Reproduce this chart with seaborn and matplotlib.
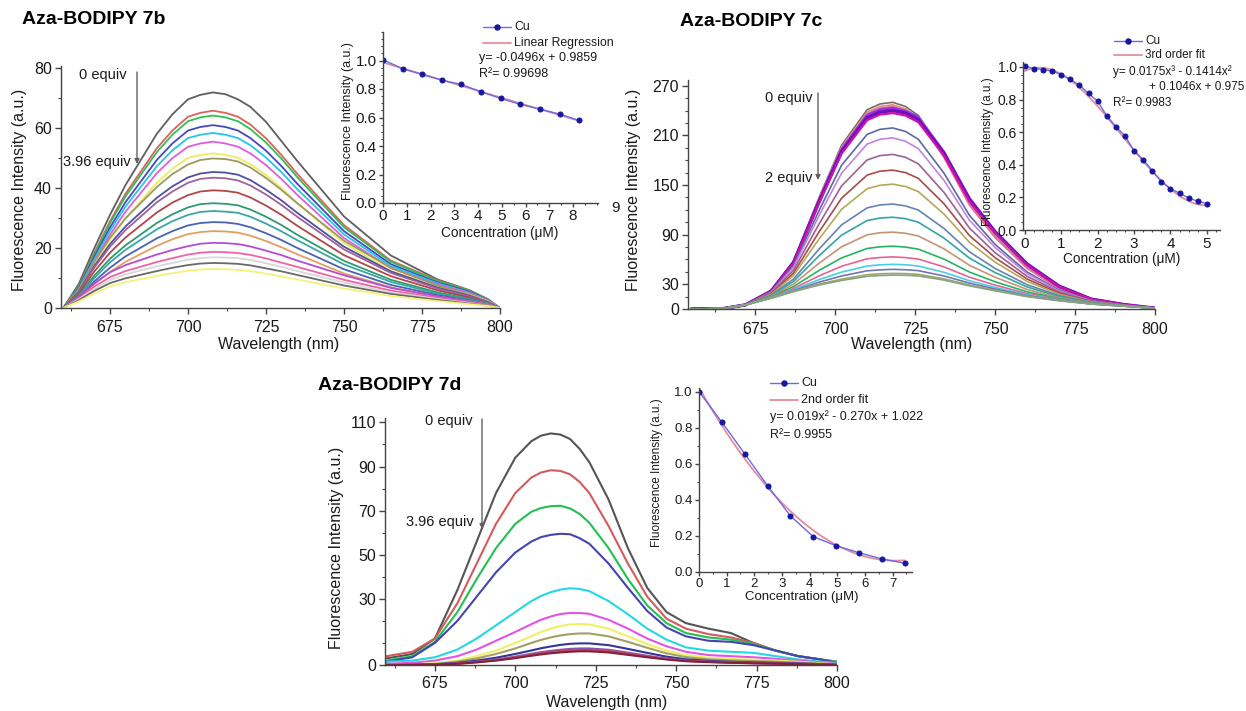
import numpy as np
import pandas as pd
import matplotlib
matplotlib.use("Agg")
import matplotlib.pyplot as plt
import seaborn as sns
from matplotlib.lines import Line2D
from matplotlib.patches import FancyArrowPatch
from matplotlib.ticker import MultipleLocator

# ---------------------------------------------------------------- data
# Aza-BODIPY 7b emission spectra (Cu titration 0 -> 3.96 equiv)
wl_7b = [660, 665, 670, 675, 680, 690, 695, 700, 704, 708, 712, 716, 720, 725, 730, 735,
         750, 765, 780, 790, 796, 800]
spec_7b = [
    [0, 8.0, 20.0, 31.0, 41.0, 58.0, 64.5, 69.5, 71.0, 71.8, 71.2, 69.5, 67.0, 62.0, 55.5, 49.0, 30.5, 17.5, 9.5, 6.0, 3.0, 0],
    [0, 7.2, 18.4, 28.9, 38.1, 53.2, 59.1, 63.7, 65.0, 65.7, 65.0, 63.7, 61.1, 56.5, 50.9, 44.7, 27.6, 15.8, 9.2, 5.9, 3.0, 0],
    [0, 7.1, 17.9, 28.2, 37.2, 51.9, 57.7, 62.2, 63.5, 64.1, 63.5, 62.2, 59.6, 55.1, 49.7, 43.6, 26.9, 15.4, 9.0, 5.8, 2.9, 0],
    [0, 6.7, 17.1, 26.8, 35.3, 49.3, 54.8, 59.1, 60.3, 60.9, 60.3, 59.1, 56.6, 52.4, 47.2, 41.4, 25.6, 14.6, 8.5, 5.5, 2.7, 0],
    [0, 6.4, 16.3, 25.7, 33.8, 47.2, 52.5, 56.6, 57.7, 58.3, 57.7, 56.6, 54.2, 50.1, 45.2, 39.6, 24.5, 14.0, 8.2, 5.2, 2.6, 0],
    [0, 6.1, 15.5, 24.4, 32.1, 44.9, 49.9, 53.7, 54.8, 55.4, 54.8, 53.7, 51.5, 47.6, 42.9, 37.7, 23.3, 13.3, 7.8, 5.0, 2.5, 0],
    [0, 5.7, 14.4, 22.7, 29.9, 41.7, 46.4, 50.0, 51.0, 51.5, 51.0, 50.0, 47.9, 44.3, 39.9, 35.0, 21.6, 12.4, 7.2, 4.6, 2.3, 0],
    [0, 6.0, 15.4, 23.4, 29.9, 40.3, 44.6, 47.8, 49.3, 49.8, 49.6, 48.8, 46.8, 43.3, 39.3, 34.9, 22.4, 13.4, 7.5, 4.5, 2.2, 0],
    [0, 5.4, 14.0, 21.3, 27.2, 36.7, 40.5, 43.5, 44.8, 45.3, 45.1, 44.4, 42.6, 39.4, 35.8, 31.7, 20.4, 12.2, 6.8, 4.1, 2.0, 0],
    [0, 5.2, 13.5, 20.4, 26.0, 35.2, 38.8, 41.7, 43.0, 43.4, 43.2, 42.5, 40.8, 37.8, 34.3, 30.4, 19.5, 11.7, 6.5, 3.9, 2.0, 0],
    [0, 4.7, 12.2, 18.4, 23.5, 31.8, 35.1, 37.6, 38.8, 39.2, 39.0, 38.4, 36.8, 34.1, 31.0, 27.4, 17.6, 10.6, 5.9, 3.5, 1.8, 0],
    [0, 4.2, 10.8, 16.4, 20.9, 28.3, 31.2, 33.5, 34.6, 34.9, 34.7, 34.2, 32.8, 30.4, 27.6, 24.4, 15.7, 9.4, 5.2, 3.1, 1.6, 0],
    [0, 3.9, 10.0, 15.2, 19.4, 26.2, 28.9, 31.0, 32.0, 32.3, 32.1, 31.7, 30.4, 28.1, 25.5, 22.6, 14.5, 8.7, 4.8, 2.9, 1.5, 0],
    [0, 3.4, 8.9, 13.4, 17.2, 23.2, 25.6, 27.5, 28.3, 28.6, 28.5, 28.0, 26.9, 24.9, 22.6, 20.0, 12.9, 7.7, 4.3, 2.6, 1.3, 0],
    [0, 3.1, 7.9, 12.0, 15.4, 20.7, 22.9, 24.6, 25.3, 25.6, 25.5, 25.1, 24.1, 22.3, 20.2, 17.9, 11.5, 6.9, 3.8, 2.3, 1.2, 0],
    [0, 3.7, 8.2, 11.9, 14.3, 17.8, 19.3, 20.6, 21.4, 21.7, 21.6, 21.3, 20.5, 19.1, 17.6, 15.8, 10.9, 6.7, 3.9, 2.2, 1.1, 0],
    [0, 3.2, 7.1, 10.3, 12.3, 15.3, 16.6, 17.8, 18.4, 18.7, 18.6, 18.3, 17.7, 16.5, 15.1, 13.7, 9.4, 5.8, 3.4, 1.9, 0.9, 0],
    [0, 2.9, 6.4, 9.3, 11.2, 13.9, 15.0, 16.1, 16.6, 16.9, 16.8, 16.6, 16.0, 14.9, 13.7, 12.3, 8.5, 5.2, 3.0, 1.7, 0.8, 0],
    [0, 2.6, 5.7, 8.3, 9.9, 12.3, 13.4, 14.3, 14.8, 15.0, 14.9, 14.7, 14.2, 13.2, 12.2, 11.0, 7.5, 4.7, 2.7, 1.5, 0.8, 0],
    [0, 2.2, 4.9, 7.2, 8.6, 10.7, 11.6, 12.4, 12.8, 13.0, 12.9, 12.7, 12.3, 11.4, 10.5, 9.5, 6.5, 4.0, 2.3, 1.3, 0.7, 0],
]
colors_7b = ['#5f5f5f', '#e0605a', '#2fbf55', '#4646c0', '#25c6e6', '#e05ce0', '#ecec62',
             '#9c9a5e', '#4f4fa0', '#a0609c', '#b04646', '#2e9a6e', '#3aa6a6', '#4862b4',
             '#e0a060', '#b64ad6', '#f062a6', '#d8d8d8', '#6a6a6a', '#f4f27a']

# Aza-BODIPY 7c emission spectra (Cu titration 0 -> 2 equiv)
wl_7c = [655, 665, 672, 680, 687, 695, 702, 710, 714, 718, 722, 726, 734, 742, 750, 760, 770, 780, 790, 800]
spec_7c = [
    [0, 0.5, 5, 22.0, 58.0, 135.0, 198.0, 241.0, 248.0, 250, 245.0, 234.0, 187.0, 128.0, 88.0, 50.0, 25.0, 11.0, 5.0, 1],
    [0, 0.5, 5, 21.9, 57.5, 133.5, 195.7, 238.2, 245.1, 247, 242.1, 231.3, 184.9, 126.6, 87.1, 49.5, 24.8, 10.9, 5.0, 1],
    [0, 0.5, 5, 21.8, 57.1, 132.5, 194.1, 236.2, 243.0, 245, 240.1, 229.3, 183.4, 125.6, 86.4, 49.2, 24.6, 10.9, 5.0, 1],
    [0, 0.5, 5, 21.7, 56.8, 131.5, 192.6, 234.4, 241.2, 243, 239.5, 232.0, 190.0, 134.0, 94.0, 55.0, 28.0, 12.0, 5.5, 1],
    [0, 0.5, 5, 21.6, 56.2, 129.9, 190.2, 231.3, 238.0, 240, 237.0, 229.0, 188.0, 132.0, 93.0, 54.0, 27.5, 12.0, 5.5, 1],
    [0, 0.5, 5, 21.4, 55.7, 128.4, 187.9, 228.5, 235.1, 237, 234.0, 226.0, 186.0, 130.0, 92.0, 53.0, 27.0, 12.0, 5.5, 1],
    [0, 0.5, 5, 20.7, 52.5, 119.3, 173.8, 211.2, 217.3, 219, 214.8, 205.3, 164.5, 113.2, 78.2, 44.8, 22.8, 10.3, 4.8, 1],
    [0, 0.5, 5, 20.1, 50.4, 113.2, 164.3, 199.5, 205.3, 207, 202.9, 194.0, 155.7, 107.4, 74.4, 42.8, 21.9, 10.0, 4.7, 1],
    [0, 0.5, 5, 19.3, 46.9, 103.1, 148.8, 180.3, 185.5, 187, 183.5, 175.6, 141.2, 97.9, 68.1, 39.5, 20.5, 9.5, 4.5, 1],
    [0, 0.5, 5, 18.5, 43.5, 93.4, 133.9, 162.0, 166.7, 168, 165.0, 158.0, 127.4, 88.8, 62.1, 36.3, 19.1, 9.0, 4.4, 1],
    [0, 0.5, 5, 17.7, 40.5, 84.8, 120.5, 145.5, 149.6, 151, 148.2, 142.0, 115.0, 80.6, 56.7, 33.4, 17.9, 8.6, 4.3, 1],
    [0, 0.5, 5, 16.7, 36.2, 72.6, 101.7, 122.3, 125.8, 127, 124.7, 119.7, 97.5, 69.1, 49.1, 29.4, 16.2, 8.1, 4.1, 1],
    [0, 0.5, 5, 16.0, 33.4, 64.5, 89.3, 107.0, 110.0, 111, 109.2, 105.0, 85.9, 61.5, 44.1, 26.7, 15.0, 7.7, 4.0, 1],
    [0, 0.5, 5, 15.2, 30.2, 55.4, 75.2, 89.7, 92.2, 93, 91.6, 88.3, 72.8, 52.9, 38.4, 23.7, 13.7, 7.2, 3.9, 1],
    [0, 0.5, 5, 14.5, 27.2, 46.7, 61.8, 73.2, 75.2, 76, 74.9, 72.4, 60.4, 44.7, 33.0, 20.8, 12.5, 6.8, 3.8, 1],
    [0, 0.5, 5, 13.9, 24.9, 40.1, 51.7, 60.7, 62.3, 63, 62.2, 60.4, 51.0, 38.5, 28.9, 18.7, 11.6, 6.5, 3.7, 1],
    [0, 0.5, 5, 13.6, 23.3, 35.6, 44.6, 52.0, 53.4, 54, 53.5, 52.0, 44.4, 34.2, 26.1, 17.2, 10.9, 6.3, 3.6, 1],
    [0, 0.5, 5, 13.3, 22.2, 32.5, 39.9, 46.2, 47.3, 48, 47.5, 46.4, 40.0, 31.3, 24.2, 16.2, 10.5, 6.2, 3.5, 1],
    [0, 0.5, 5, 13.1, 21.4, 30.1, 36.1, 41.5, 42.6, 43, 42.8, 41.9, 36.5, 29.0, 22.7, 15.4, 10.2, 6.1, 3.5, 1],
    [0, 0.5, 5, 13.0, 21.0, 29.0, 34.5, 39.5, 40.5, 41, 40.8, 40.0, 35.0, 28.0, 22.0, 15.0, 10.0, 6.0, 3.5, 1],
]
colors_7c = ['#6e6e6e', '#e8906e', '#e070a0', '#9a30e6', '#6a10b8', '#d010a8', '#5a6aa0',
             '#c284e2', '#a06094', '#a84a4a', '#b4a858', '#6484b4', '#34a4a4', '#c49474',
             '#24b464', '#e46494', '#44d0e4', '#7474b4', '#a4a468', '#84a484']
widths_7c = [1.2, 1.2, 1.2, 2.0, 2.4, 1.6, 1.2, 1.2, 1.2, 1.2, 1.2, 1.2, 1.2, 1.2,
             1.2, 1.2, 1.2, 1.2, 1.2, 1.2]

# Aza-BODIPY 7d emission spectra (Cu titration 0 -> 3.96 equiv)
wl_7d = [660, 668, 675, 682, 688, 694, 700, 705, 708, 711, 714, 717, 720, 723, 729, 735,
         741, 747, 753, 760, 767, 774, 781, 788, 795, 800]
spec_7d = [
    [3.0, 5.0, 12.0, 34.0, 56.0, 78.0, 94.0, 101.5, 104.0, 105.0, 104.5, 102.5, 98.0, 92.0, 75.0, 53.0, 35.0, 24.0, 19.0, 16.5, 14.5, 10.0, 6.5, 4.0, 2.5, 1.0],
    [4.0, 6.0, 12.0, 28.0, 46.0, 64.0, 78.0, 85.0, 87.3, 88.3, 88.0, 86.5, 83.0, 78.0, 63.0, 46.0, 31.0, 21.0, 16.5, 14.0, 12.5, 10.0, 6.5, 4.0, 2.5, 1.5],
    [2.0, 4.0, 10.5, 24.0, 39.0, 53.0, 64.0, 69.5, 71.2, 72.0, 72.2, 71.0, 68.5, 64.5, 53.0, 39.0, 27.0, 19.0, 14.5, 12.5, 11.5, 9.5, 6.5, 4.0, 2.5, 1.5],
    [1.5, 3.5, 10.0, 20.0, 31.0, 42.0, 51.0, 56.0, 58.0, 59.0, 59.5, 59.3, 57.5, 55.0, 46.0, 35.0, 24.5, 17.0, 13.0, 11.0, 10.5, 9.0, 6.5, 4.0, 2.5, 1.0],
    [1.5, 2.0, 3.5, 7.0, 12.0, 18.0, 24.0, 29.0, 31.3, 33.0, 34.2, 34.8, 34.5, 33.5, 29.0, 23.0, 16.5, 11.5, 8.0, 6.5, 6.0, 5.5, 4.0, 2.5, 1.5, 1.0],
    [0.5, 1.0, 2.0, 4.0, 7.0, 11.0, 15.0, 18.5, 20.5, 22.0, 23.1, 23.6, 23.6, 23.2, 20.5, 16.5, 12.0, 8.5, 6.0, 4.5, 4.0, 3.5, 2.8, 2.0, 1.2, 0.5],
    [0.0, 0.3, 0.8, 2.0, 4.0, 6.5, 10.0, 13.0, 15.0, 16.5, 17.7, 18.4, 18.6, 18.4, 16.5, 13.0, 9.5, 6.5, 4.5, 3.3, 2.8, 2.4, 2.0, 1.5, 0.8, 0.3],
    [0.0, 0.2, 0.5, 1.5, 3.0, 5.0, 7.5, 10.0, 11.4, 12.5, 13.4, 14.0, 14.3, 14.3, 13.0, 10.5, 7.8, 5.3, 3.6, 2.6, 2.1, 1.8, 1.5, 1.1, 0.6, 0.2],
    [0.0, 0.1, 0.3, 1.0, 2.0, 3.3, 5.0, 6.6, 7.6, 8.4, 9.1, 9.6, 9.8, 9.8, 9.0, 7.3, 5.5, 3.8, 2.6, 1.9, 1.5, 1.2, 1.0, 0.7, 0.4, 0.1],
    [0.0, 0.1, 0.2, 0.7, 1.5, 2.5, 3.8, 5.1, 5.8, 6.4, 6.9, 7.3, 7.5, 7.5, 6.9, 5.6, 4.2, 2.9, 2.0, 1.5, 1.2, 0.9, 0.7, 0.5, 0.3, 0.1],
    [0.0, 0.1, 0.2, 0.6, 1.3, 2.2, 3.4, 4.6, 5.3, 5.8, 6.3, 6.6, 6.8, 6.8, 6.3, 5.1, 3.8, 2.7, 1.9, 1.4, 1.1, 0.8, 0.6, 0.5, 0.3, 0.1],
    [0.0, 0.1, 0.2, 0.5, 1.2, 2.0, 3.1, 4.2, 4.8, 5.3, 5.7, 6.0, 6.2, 6.2, 5.7, 4.6, 3.5, 2.5, 1.7, 1.3, 1.0, 0.8, 0.6, 0.4, 0.2, 0.1],
]
colors_7d = ['#555555', '#d65a5a', '#22c052', '#4444b4', '#22d8e2', '#e254e2', '#f0f064',
             '#a2a062', '#34349a', '#8a52a6', '#c24462', '#80203a']

# Normalised intensity vs Cu concentration (insets)
conc_7b = [0, 0.83, 1.65, 2.48, 3.30, 4.13, 4.95, 5.78, 6.60, 7.43, 8.25]
ratio_7b = [1.005, 0.942, 0.902, 0.862, 0.832, 0.780, 0.734, 0.692, 0.659, 0.624, 0.580]
fit_7b = [-0.0496, 0.9859]

conc_7c = [0, 0.25, 0.5, 0.75, 1.0, 1.25, 1.5, 1.75, 2.0, 2.25, 2.5, 2.75, 3.0, 3.25, 3.5,
           3.75, 4.0, 4.25, 4.5, 4.75, 5.0]
ratio_7c = [1.004, 0.990, 0.984, 0.974, 0.953, 0.923, 0.888, 0.837, 0.789, 0.700, 0.634,
            0.577, 0.486, 0.431, 0.364, 0.297, 0.252, 0.226, 0.195, 0.177, 0.161]
fit_7c = [0.0175, -0.1414, 0.1046, 0.975]

conc_7d = [0, 0.83, 1.65, 2.48, 3.30, 4.13, 4.95, 5.78, 6.60, 7.43]
ratio_7d = [1.0, 0.83, 0.656, 0.478, 0.312, 0.196, 0.146, 0.107, 0.073, 0.049]
fit_7d = [0.019, -0.270, 1.022]

wl_ticks = [675, 700, 725, 750, 775, 800]

# ---------------------------------------------------------------- style
sns.set_theme(style="ticks")
plt.rcParams['font.family'] = ['Liberation Sans', 'DejaVu Sans']
plt.rcParams['axes.linewidth'] = 1.0

W, H = 1246, 711
fig = plt.figure(figsize=(W / 100, H / 100), dpi=100)
fig.patch.set_facecolor('white')

AX = '#444444'
TXT = '#1a1a1a'


def fx(x):
    return x / W


def fy(y):
    return 1 - y / H


def rect(l, t, r, b):
    return [l / W, 1 - b / H, (r - l) / W, (b - t) / H]


def style(ax, labelsize, majlen=4, minlen=2.2, pad=2.5):
    sns.despine(ax=ax)
    for sp in ('left', 'bottom'):
        ax.spines[sp].set_color(AX)
        ax.spines[sp].set_linewidth(1.0)
    ax.tick_params(which='major', direction='out', length=majlen, width=1.0, color=AX,
                   labelsize=labelsize, labelcolor=TXT, pad=pad)
    ax.tick_params(which='minor', direction='out', length=minlen, width=0.8, color=AX)
    ax.set_facecolor('none')
    ax.set_xlabel('')
    ax.set_ylabel('')


def spectra(ax, wl, spec, colors, widths):
    for s, c, w in zip(spec, colors, widths):
        df = pd.DataFrame({'wl': wl, 'val': s})
        sns.lineplot(data=df, x='wl', y='val', color=c, lw=w, ax=ax, sort=False,
                     estimator=None, legend=False)


def inset(ax, conc, ratio, coef, labelsize):
    xf = np.linspace(conc[0], conc[-1], 200)
    df_fit = pd.DataFrame({'x': xf, 'y': np.polyval(coef, xf)})
    sns.lineplot(data=df_fit, x='x', y='y', color='#e58c9c', lw=1.3, ax=ax, legend=False)
    df = pd.DataFrame({'x': conc, 'y': ratio})
    sns.lineplot(data=df, x='x', y='y', color='#6a6ae6', lw=1.0, marker='o', markersize=3.6,
                 markerfacecolor='#1616a0', markeredgecolor='#1616a0', ax=ax, legend=False)
    style(ax, labelsize, majlen=3, minlen=1.6, pad=1.5)


def legend(x0, y_cu, y_fit, fit_label, size=9):
    fig.add_artist(Line2D([fx(x0), fx(x0 + 28)], [fy(y_cu), fy(y_cu)], transform=fig.transFigure,
                          color='#6a6ae6', lw=1.0))
    fig.add_artist(Line2D([fx(x0 + 14)], [fy(y_cu)], transform=fig.transFigure, marker='o',
                          markersize=3.6, color='#1616a0', lw=0))
    fig.text(fx(x0 + 31), fy(y_cu), 'Cu', fontsize=size, color=TXT, va='center', ha='left')
    fig.add_artist(Line2D([fx(x0), fx(x0 + 28)], [fy(y_fit), fy(y_fit)], transform=fig.transFigure,
                          color='#e58c9c', lw=1.3))
    fig.text(fx(x0 + 31), fy(y_fit), fit_label, fontsize=size, color=TXT, va='center', ha='left')


def arrow(x, y0, y1):
    fig.add_artist(FancyArrowPatch((fx(x), fy(y0)), (fx(x), fy(y1)), transform=fig.transFigure,
                                   arrowstyle='-|>', mutation_scale=7, color='#606060', lw=1.0,
                                   shrinkA=0, shrinkB=0))


def ftext(x, y, s, size, **kw):
    kw.setdefault('color', TXT)
    fig.text(fx(x), fy(y), s, fontsize=size, **kw)


# ---------------------------------------------------------------- 7b
ax = fig.add_axes(rect(61, 66, 500, 308))
spectra(ax, wl_7b, spec_7b, colors_7b, [1.3] * len(spec_7b))
ax.set_xlim(659.3, 800)
ax.set_ylim(0, 80.6)
ax.set_xticks(wl_ticks)
ax.xaxis.set_minor_locator(MultipleLocator(12.5))
ax.set_yticks([0, 20, 40, 60, 80])
ax.yaxis.set_minor_locator(MultipleLocator(10))
style(ax, 11.5)
ax.tick_params(axis='x', pad=5)

axi = fig.add_axes(rect(383, 32, 598, 203))
inset(axi, conc_7b, ratio_7b, fit_7b, 11)
axi.set_xlim(0, 9.05)
axi.set_ylim(0, 1.2)
axi.set_xticks(range(0, 9))
axi.xaxis.set_minor_locator(MultipleLocator(0.5))
axi.set_yticks([0, 0.2, 0.4, 0.6, 0.8, 1.0])
axi.yaxis.set_minor_locator(MultipleLocator(0.05))
ftext(615, 208, '9', 11, ha='center', va='center')

ftext(22, 20, 'Aza-BODIPY 7b', 14, weight='bold', color='black', ha='left', va='center')
ftext(20, 190, 'Fluorescence Intensity (a.u.)', 11.5, rotation=90, ha='center', va='center')
ftext(279, 344, 'Wavelength (nm)', 11.5, ha='center', va='center')
ftext(348, 121, 'Fluorescence Intensity (a.u.)', 9, rotation=90, ha='center', va='center')
ftext(500, 233, 'Concentration (μM)', 9.8, ha='center', va='center')
legend(483, 27, 43, 'Linear Regression', 8.8)
ftext(479, 58, 'y= -0.0496x + 0.9859', 9, ha='left', va='center')
ftext(479, 74, 'R²= 0.99698', 9, ha='left', va='center')
arrow(137, 72, 164)
ftext(103, 75, '0 equiv', 10.5, ha='center', va='center')
ftext(97, 162, '3.96 equiv', 10.5, ha='center', va='center')

# ---------------------------------------------------------------- 7c
ax = fig.add_axes(rect(688, 80, 1155, 309))
spectra(ax, wl_7c, spec_7c, colors_7c, widths_7c)
ax.set_xlim(654, 800)
ax.set_ylim(0, 277)
ax.set_xticks(wl_ticks)
ax.xaxis.set_minor_locator(MultipleLocator(12.5))
ax.set_yticks([0, 30, 90, 150, 210, 270])
ax.yaxis.set_minor_locator(MultipleLocator(15))
style(ax, 11.5)
ax.tick_params(axis='x', pad=5)

axi = fig.add_axes(rect(1023, 62, 1220, 230))
inset(axi, conc_7c, ratio_7c, fit_7c, 10)
axi.set_xlim(-0.05, 5.36)
axi.set_ylim(0, 1.03)
axi.set_xticks(range(0, 6))
axi.xaxis.set_minor_locator(MultipleLocator(0.25))
axi.set_yticks([0, 0.2, 0.4, 0.6, 0.8, 1.0])
axi.yaxis.set_minor_locator(MultipleLocator(0.05))
axi.tick_params(axis='x', labelsize=11, pad=2)

ftext(680, 22, 'Aza-BODIPY 7c', 14, weight='bold', color='black', ha='left', va='center')
ftext(633, 190, 'Fluorescence Intensity (a.u.)', 11.5, rotation=90, ha='center', va='center')
ftext(912, 344, 'Wavelength (nm)', 11.5, ha='center', va='center')
ftext(988, 152, 'Fluorescence Intensity (a.u.)', 8.5, rotation=90, ha='center', va='center')
ftext(1122, 259, 'Concentration (μM)', 9.8, ha='center', va='center')
legend(1114, 41, 55, '3rd order fit', 8.5)
ftext(1113, 72, 'y= 0.0175x³ - 0.1414x²', 8.5, ha='left', va='center')
ftext(1149, 87, '+ 0.1046x + 0.975', 8.5, ha='left', va='center')
ftext(1113, 103, 'R²= 0.9983', 8.5, ha='left', va='center')
arrow(818, 93, 180)
ftext(789, 98, '0 equiv', 10.5, ha='center', va='center')
ftext(789, 178, '2 equiv', 10.5, ha='center', va='center')

# ---------------------------------------------------------------- 7d
ax = fig.add_axes(rect(385, 418, 837, 665))
spectra(ax, wl_7d, spec_7d, colors_7d, [1.5] * len(spec_7d))
ax.set_xlim(659.5, 800)
ax.set_ylim(0, 112)
ax.set_xticks(wl_ticks)
ax.xaxis.set_minor_locator(MultipleLocator(12.5))
ax.set_yticks([0, 30, 50, 70, 90, 110])
ax.yaxis.set_minor_locator(MultipleLocator(10))
style(ax, 11.5)
ax.tick_params(axis='x', pad=4)

axi = fig.add_axes(rect(699, 388, 912, 572))
inset(axi, conc_7d, ratio_7d, fit_7d, 9.5)
axi.set_xlim(0, 7.7)
axi.set_ylim(0, 1.02)
axi.set_xticks(range(0, 8))
axi.xaxis.set_minor_locator(MultipleLocator(0.5))
axi.set_yticks([0, 0.2, 0.4, 0.6, 0.8, 1.0])
axi.yaxis.set_minor_locator(MultipleLocator(0.1))
axi.tick_params(axis='x', pad=1)

ftext(318, 385, 'Aza-BODIPY 7d', 14, weight='bold', color='black', ha='left', va='center')
ftext(336, 548, 'Fluorescence Intensity (a.u.)', 11.5, rotation=90, ha='center', va='center')
ftext(607, 702, 'Wavelength (nm)', 11.5, ha='center', va='center')
ftext(657, 473, 'Fluorescence Intensity (a.u.)', 8.5, rotation=90, ha='center', va='center')
ftext(802, 597, 'Concentration (μM)', 9.5, ha='center', va='center')
legend(770, 383, 400, '2nd order fit', 9)
ftext(770, 417, 'y= 0.019x² - 0.270x + 1.022', 9, ha='left', va='center')
ftext(770, 435, 'R²= 0.9955', 9, ha='left', va='center')
arrow(482, 419, 529)
ftext(449, 421, '0 equiv', 10.5, ha='center', va='center')
ftext(440, 522, '3.96 equiv', 10.5, ha='center', va='center')

fig.savefig('out.png', dpi=100, facecolor='white')
